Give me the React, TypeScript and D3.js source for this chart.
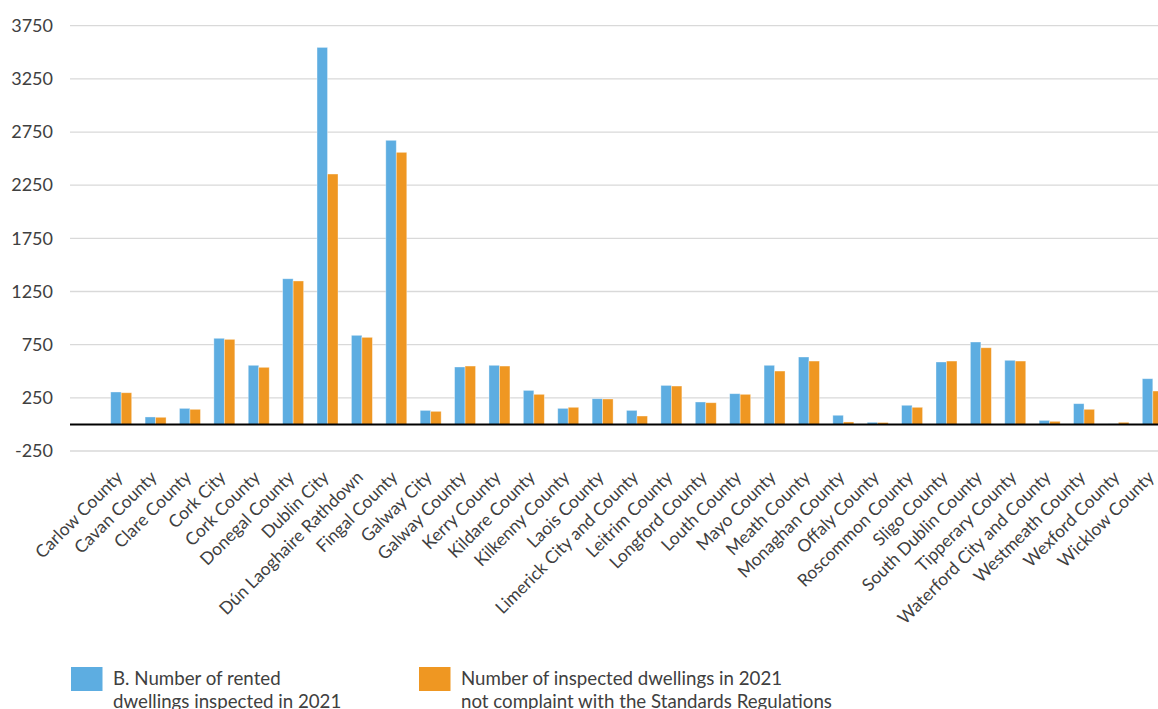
import * as d3 from 'd3';
import React, { useEffect, useRef } from 'react';

const counties = [
  "Carlow County", "Cavan County", "Clare County", "Cork City", "Cork County",
  "Donegal County", "Dublin City", "Dún Laoghaire Rathdown", "Fingal County",
  "Galway City", "Galway County", "Kerry County", "Kildare County", "Kilkenny County",
  "Laois County", "Limerick City and County", "Leitrim County", "Longford County",
  "Louth County", "Mayo County", "Meath County", "Monaghan County", "Offaly County",
  "Roscommon County", "Sligo County", "South Dublin County", "Tipperary County",
  "Waterford City and County", "Westmeath County", "Wexford County", "Wicklow County",
];

const inspected = [
  305, 70, 151, 810, 556, 1370, 3546, 838, 2672, 132, 540, 556, 320, 151, 242, 132,
  367, 211, 289, 556, 634, 86, 20, 180, 587, 775, 603, 38, 195, 5, 430,
];

const nonCompliant = [
  298, 67, 142, 800, 537, 1349, 2355, 819, 2559, 123, 549, 549, 283, 161, 239, 79,
  361, 204, 283, 502, 596, 23, 18, 161, 596, 721, 596, 29, 142, 20, 314,
];

const yTicks = [-250, 250, 750, 1250, 1750, 2250, 2750, 3250, 3750];

const seriesNames = [
  ["B. Number of rented", "dwellings inspected in 2021"],
  ["Number of inspected dwellings in 2021", "not complaint with the Standards Regulations"],
];

const colors = ["#5DADE1", "#EF9722"];

export default function App() {
  const ref = useRef<SVGSVGElement>(null);

  useEffect(() => {
    const width = 1158;
    const height = 709;
    const svg = d3.select(ref.current);
    svg.selectAll("*").remove();

    const gridLeft = 70;
    const font = "Lato, 'Open Sans', sans-serif";
    const textColor = "#404040";

    const y = d3.scaleLinear().domain([-250, 3750]).range([451, 25.7]);
    const x = d3.scaleBand<string>()
      .domain(counties)
      .range([104, 1170])
      .paddingInner(0.39)
      .paddingOuter(0.195);
    const xs = d3.scaleBand<number>().domain([0, 1]).range([0, x.bandwidth()]);

    // grid lines + y labels
    svg.append("g")
      .selectAll("line")
      .data(yTicks)
      .enter()
      .append("line")
      .attr("x1", gridLeft)
      .attr("x2", width)
      .attr("y1", (d) => y(d))
      .attr("y2", (d) => y(d))
      .attr("stroke", "#d9d9d9")
      .attr("stroke-width", 1.3);

    svg.append("g")
      .selectAll("text")
      .data(yTicks)
      .enter()
      .append("text")
      .attr("x", 53)
      .attr("y", (d) => y(d))
      .attr("dy", "0.35em")
      .attr("text-anchor", "end")
      .attr("font-family", font)
      .attr("font-size", 18)
      .attr("fill", textColor)
      .text((d) => String(d));

    // bars
    const series = [inspected, nonCompliant];
    series.forEach((vals, si) => {
      svg.append("g")
        .selectAll("rect")
        .data(vals)
        .enter()
        .append("rect")
        .attr("x", (d, i) => (x(counties[i]) as number) + (xs(si) as number))
        .attr("y", (d) => y(Math.max(0, d)))
        .attr("width", xs.bandwidth())
        .attr("height", (d) => Math.abs(y(d) - y(0)))
        .attr("fill", colors[si])
        .attr("stroke", "rgba(255,255,255,0.45)")
        .attr("stroke-width", 0.8);
    });

    // zero line
    svg.append("line")
      .attr("x1", gridLeft)
      .attr("x2", width)
      .attr("y1", y(0))
      .attr("y2", y(0))
      .attr("stroke", "#000")
      .attr("stroke-width", 2);

    // x labels
    svg.append("g")
      .selectAll("text")
      .data(counties)
      .enter()
      .append("text")
      .attr("transform", (d) => "translate(" + ((x(d) as number) + x.bandwidth() / 2 - 2) + "," + 474 + ") rotate(-45)")
      .attr("dy", "0.35em")
      .attr("text-anchor", "end")
      .attr("font-family", font)
      .attr("font-size", 17.5)
      .attr("fill", textColor)
      .text((d) => d);

    // legend
    const legendX = [71, 419];
    const legend = svg.append("g")
      .selectAll("g")
      .data(seriesNames)
      .enter()
      .append("g")
      .attr("transform", (d, i) => "translate(" + legendX[i] + ",667)");

    legend.append("rect")
      .attr("width", 31.5)
      .attr("height", 24)
      .attr("fill", (d, i) => colors[i]);

    legend.append("text")
      .attr("x", 42)
      .attr("y", 18)
      .attr("font-family", font)
      .attr("font-size", 18.7)
      .attr("fill", textColor)
      .selectAll("tspan")
      .data((d) => d)
      .enter()
      .append("tspan")
      .attr("x", 42)
      .attr("dy", (d, i) => (i === 0 ? 0 : 23))
      .text((d) => d);

    svg.attr("width", width).attr("height", height);
  }, []);

  return (
    <svg
      ref={ref}
      width={1158}
      height={709}
      style={{ position: "absolute", left: 0, top: 0, background: "#fff" }}
    />
  );
}
